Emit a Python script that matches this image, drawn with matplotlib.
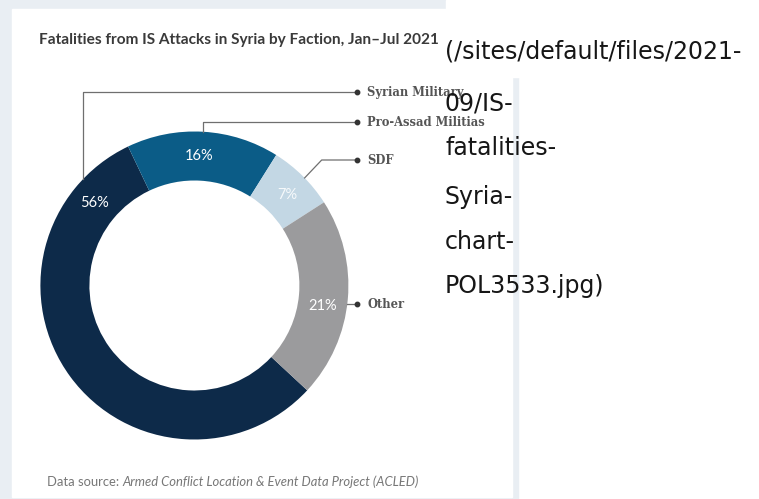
import numpy as np
import matplotlib.pyplot as plt
from matplotlib.patches import Rectangle

# data
factions = ["Syrian Military", "Pro-Assad Militias", "SDF", "Other"]
shares = [56, 16, 7, 21]
colors = ["#0d2a49", "#0b5c87", "#c3d7e4", "#9b9b9d"]
pct_angles = [140.7, 88.0, 44.4, -9.3]   # where each % label sits on the ring
label_y = [92, 122, 160, 304]             # label rows (image px from top)

alt_lines = ["(/sites/default/files/2021-", "09/IS-", "fatalities-",
             "Syria-", "chart-", "POL3533.jpg)"]
alt_base = [58, 110, 155, 204, 249, 293]

W, H = 759, 499
fig = plt.figure(figsize=(W / 100, H / 100), dpi=100)
ax = fig.add_axes([0, 0, 1, 1])


def Y(y):
    return H - y


# frame of the embedded image
ax.add_patch(Rectangle((0, 0), 518, H, color="#e9eef3", zorder=0))
ax.add_patch(Rectangle((12, Y(497)), 500, 488, color="white", zorder=0))
ax.add_patch(Rectangle((446, Y(77)), W - 446, 77, color="white", zorder=0))

cx, cy, R, ring = 194.4, Y(285.5), 154, 49
ax.pie(shares, colors=colors, startangle=-42.9, counterclock=False,
       center=(cx, cy), radius=R, wedgeprops=dict(width=ring, linewidth=0))

rm = R - ring / 2
for s, a in zip(shares, pct_angles):
    t = np.deg2rad(a)
    ax.text(cx + rm * np.cos(t), cy + rm * np.sin(t), f"{s}%", color="white",
            ha="center", va="center", fontsize=10.5, family="Lato",
            alpha=0.85 if s == 7 else 1)

# leader lines
lc = "#6f6f6f"
dot_x = 357
# Syrian Military: vertical then horizontal
ex = 83.3
ey = cy + np.sqrt(R ** 2 - (ex - cx) ** 2)
ax.plot([ex, ex, dot_x], [ey, Y(label_y[0]), Y(label_y[0])], color=lc, lw=0.9)
# Pro-Assad
ex = 203.3
ey = cy + np.sqrt(R ** 2 - (ex - cx) ** 2)
ax.plot([ex, ex, dot_x], [ey, Y(label_y[1]), Y(label_y[1])], color=lc, lw=0.9)
# SDF: diagonal then horizontal
t = np.deg2rad(44.3)
ax.plot([cx + R * np.cos(t), 321.7, dot_x],
        [cy + R * np.sin(t), Y(label_y[2]), Y(label_y[2])], color=lc, lw=0.9)
# Other
ex = cx + np.sqrt(R ** 2 - (Y(label_y[3]) - cy) ** 2)
ax.plot([ex, dot_x], [Y(label_y[3])] * 2, color=lc, lw=0.9)

for name, y in zip(factions, label_y):
    ax.plot(dot_x, Y(y), "o", color="#333333", ms=3.2)
    ax.text(367, Y(y), name, color="#555555", fontsize=8.3, family="DejaVu Serif",
            weight="bold", va="center", ha="left")

ax.text(39, Y(44), "Fatalities from IS Attacks in Syria by Faction, Jan\u2013Jul 2021",
        fontsize=11.1, family="Lato", weight="bold", color="#3a3a3a", va="baseline")

src = ax.text(47, Y(486), "Data source: ", fontsize=9.4, family="Lato",
              color="#777777", va="baseline")
ax.annotate("Armed Conflict Location & Event Data Project (ACLED)",
            xycoords=src, xy=(1, 0), va="bottom", fontsize=9.4, family="Lato",
            style="italic", color="#777777")

for line, b in zip(alt_lines, alt_base):
    ax.text(445, Y(b), line, fontsize=17, family="DejaVu Sans", color="#161616",
            va="baseline", zorder=5)

ax.set_xlim(0, W)
ax.set_ylim(0, H)
ax.set_aspect("auto")
ax.axis("off")
fig.savefig("out.png", dpi=100)
